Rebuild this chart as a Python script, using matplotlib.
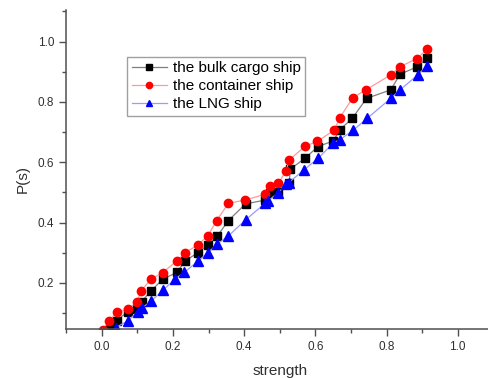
import numpy as np
import matplotlib
matplotlib.use("Agg")
import matplotlib.pyplot as plt
from matplotlib.ticker import MultipleLocator

plt.rcParams['font.family'] = ['Liberation Sans', 'DejaVu Sans']

# the bulk cargo ship
x_bulk = [0.023, 0.042, 0.073, 0.100, 0.112, 0.138, 0.171, 0.211, 0.234, 0.270,
          0.298, 0.325, 0.356, 0.404, 0.460, 0.474, 0.496, 0.527, 0.529, 0.571,
          0.607, 0.651, 0.668, 0.704, 0.744, 0.812, 0.838, 0.887, 0.913]
y_bulk = [0.046, 0.075, 0.105, 0.113, 0.138, 0.173, 0.212, 0.235, 0.273, 0.300,
          0.327, 0.356, 0.407, 0.462, 0.475, 0.499, 0.503, 0.530, 0.577, 0.613,
          0.652, 0.671, 0.707, 0.746, 0.812, 0.840, 0.892, 0.917, 0.945]

# the container ship
x_cont = [0.003, 0.021, 0.042, 0.073, 0.100, 0.110, 0.138, 0.171, 0.211, 0.234,
          0.270, 0.298, 0.323, 0.356, 0.403, 0.460, 0.473, 0.496, 0.518, 0.527,
          0.572, 0.606, 0.653, 0.668, 0.705, 0.742, 0.812, 0.838, 0.886, 0.915]
y_cont = [0.045, 0.075, 0.102, 0.113, 0.138, 0.173, 0.212, 0.234, 0.273, 0.300,
          0.326, 0.356, 0.407, 0.464, 0.475, 0.494, 0.522, 0.530, 0.572, 0.608,
          0.654, 0.669, 0.707, 0.746, 0.814, 0.840, 0.890, 0.917, 0.944, 0.977]

# the LNG ship
x_lng = [0.039, 0.073, 0.101, 0.112, 0.139, 0.173, 0.206, 0.232, 0.271, 0.298,
         0.325, 0.356, 0.404, 0.459, 0.468, 0.496, 0.519, 0.526, 0.568, 0.608,
         0.651, 0.668, 0.707, 0.746, 0.812, 0.838, 0.888, 0.913]
y_lng = [0.052, 0.074, 0.105, 0.116, 0.140, 0.177, 0.213, 0.235, 0.273, 0.300,
         0.329, 0.356, 0.409, 0.464, 0.473, 0.499, 0.528, 0.533, 0.575, 0.613,
         0.665, 0.674, 0.707, 0.746, 0.812, 0.840, 0.890, 0.919]

fig = plt.figure(figsize=(4.89, 3.78), dpi=100)
ax = fig.add_axes([0.1352, 0.1294, 0.8736, 0.8442])

ax.plot(x_bulk, y_bulk, color='#7f7f7f', lw=0.9, marker='s', ms=5.5,
        mfc='black', mec='black', label='the bulk cargo ship')
ax.plot(x_cont, y_cont, color='#ff9a9a', lw=0.9, marker='o', ms=6,
        mfc='red', mec='red', label='the container ship')
ax.plot(x_lng, y_lng, color='#9a9aff', lw=0.9, marker='^', ms=6.5,
        mfc='blue', mec='blue', label='the LNG ship')

ax.set_xlim(-0.1, 1.1)
ax.set_ylim(0.047, 1.105)
ax.xaxis.set_major_locator(MultipleLocator(0.2))
ax.xaxis.set_minor_locator(MultipleLocator(0.1))
ax.yaxis.set_major_locator(MultipleLocator(0.2))
ax.yaxis.set_minor_locator(MultipleLocator(0.1))
ax.set_yticks([0.2, 0.4, 0.6, 0.8, 1.0])

for s in ['top', 'right']:
    ax.spines[s].set_visible(False)
for s in ['left', 'bottom']:
    ax.spines[s].set_color('#505050')
    ax.spines[s].set_linewidth(1.1)

ax.tick_params(which='major', direction='out', length=5, width=1, color='#505050',
               labelsize=8.5, labelcolor='#303030')
ax.tick_params(which='minor', direction='out', length=3, width=1, color='#505050')

ax.set_xlabel('strength', fontsize=11, color='#303030')
ax.set_ylabel('P(s)', fontsize=11, color='#303030')
ax.xaxis.set_label_coords(0.5, -0.108)
ax.yaxis.set_label_coords(-0.086, 0.47)

leg = ax.legend(loc='upper left', bbox_to_anchor=(0.1425, 0.853), borderaxespad=0,
                fontsize=11, fancybox=False, edgecolor='#a0a0a0', framealpha=1,
                handlelength=2.3, handletextpad=0.4, labelspacing=0.25,
                borderpad=0.3, markerscale=0.75)
leg.get_frame().set_linewidth(1.0)

fig.savefig('out.png', dpi=100)
